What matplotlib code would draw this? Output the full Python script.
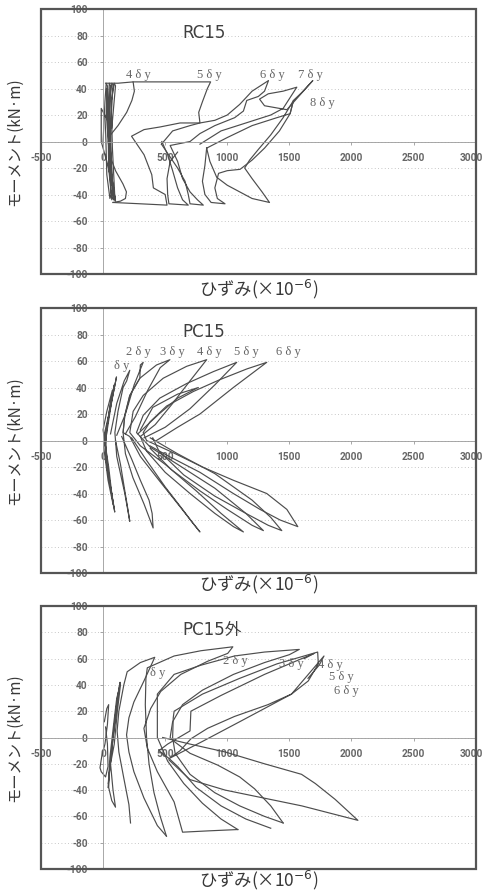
import matplotlib.pyplot as plt
from matplotlib.patches import Rectangle
from matplotlib.transforms import ScaledTranslation

plt.rcParams['font.family'] = ['Noto Sans CJK JP', 'DejaVu Sans']

# ---- RC15 : moment / strain loops (strain x1e-6, moment kN*m) ----
rc15_pre = [(0, 0), (15, 30), (25, 44), (35, 42), (20, 10), (30, -25), (55, -43), (65, -40),
            (45, -5), (40, 25), (50, 44), (60, 42), (40, 15), (45, -20), (70, -44), (80, -42),
            (55, 0), (55, 30), (70, 44), (80, 43), (60, 10), (65, -25), (85, -44), (95, -43),
            (75, -5), (65, 30), (90, 44), (100, 42), (70, 10), (-15, 25), (-15, 0), (30, -15),
            (80, -35), (100, -45), (60, -20), (35, 10), (30, 40), (45, 20), (75, -30), (90, -44)]
rc15_4dy = [(20, 44), (120, 44), (242, 45), (252, 38), (232, 31), (190, 22), (120, 12), (60, 5),
            (40, 0), (60, -12), (100, -22), (160, -32), (188, -38), (180, -43), (140, -45), (80, -46)]
rc15_5dy = [(80, -46), (300, -47), (515, -48), (500, -40), (405, -35), (392, -25), (330, -10),
            (229, 4), (330, 9), (460, 11), (620, 14), (780, 14), (770, 22), (800, 30), (840, 40),
            (866, 45), (600, 45), (242, 45)]
rc15_6dy = [(470, -2), (560, 8), (700, 12), (780, 14), (900, 16), (1000, 20), (1100, 28),
            (1150, 33), (1200, 38), (1332, 46), (1300, 38), (1250, 34), (1157, 31), (1130, 23),
            (1060, 18), (900, 12), (780, 6), (700, 0), (540, -3), (600, -15), (640, -28),
            (700, -38), (760, -44), (807, -48), (700, -47), (686, -40), (660, -30), (600, -20),
            (470, -2)]
rc15_6dy_b = [(473, 0), (520, -10), (560, -22), (600, -35), (640, -44), (686, -48), (530, -47),
              (520, -40), (515, -28), (540, -15), (600, -8)]
rc15_7dy = [(780, -2), (950, 8), (1150, 14), (1350, 20), (1450, 25), (1560, 41), (1450, 38),
            (1330, 36), (1260, 32), (1300, 27), (1480, 24), (1689, 46), (1600, 37), (1533, 31),
            (1506, 21), (1420, 8), (1300, -5), (1200, -14), (1103, -21), (1000, -22), (930, -24),
            (900, -35), (920, -43), (982, -47), (870, -46), (820, -40), (800, -30), (820, -18),
            (834, -5)]
rc15_8dy = [(834, -5), (1000, 3), (1200, 12), (1400, 18), (1506, 21), (1533, 31), (1450, 18),
            (1350, 5), (1250, -6), (1180, -14), (1140, -20), (1200, -28), (1280, -38), (1340, -46),
            (1200, -43), (1100, -38), (1000, -33), (915, -27), (860, -15), (834, -5)]
rc15_loops = [rc15_pre, rc15_4dy, rc15_5dy, rc15_6dy, rc15_6dy_b, rc15_7dy, rc15_8dy]
rc15_marks = [('4 δ y', 285, 50), ('5 δ y', 855, 50), ('6 δ y', 1367, 50),
              ('7 δ y', 1668, 50), ('8 δ y', 1762, 29)]

# ---- PC15 ----
pc15_pre = [(20, 0), (70, 30), (108, 48), (60, 25), (10, 5), (30, -20), (70, -40), (94, -54),
            (50, -30), (15, 0), (55, 25), (90, 42), (40, 15), (5, -5), (40, -30), (80, -48),
            (45, -20), (0, 8), (30, 22), (75, 38), (30, 10), (20, -10), (60, -35), (85, -50)]
pc15_1dy = [(60, 5), (110, 28), (170, 45), (215, 53), (190, 45), (161, 40), (120, 22), (95, 6),
            (110, -12), (140, -25), (175, -40), (215, -61), (200, -52), (175, -38), (140, -18),
            (100, 0)]
pc15_2dy = [(110, 4), (180, 20), (250, 42), (323, 59), (300, 57), (296, 47), (215, 34),
            (175, 19), (161, 6), (180, -10), (240, -28), (330, -48), (403, -66), (395, -55),
            (370, -45), (300, -30), (230, -14), (150, 3)]
pc15_3dy = [(180, 5), (260, 18), (360, 38), (460, 55), (538, 61), (430, 57), (296, 47), (215, 34),
            (175, 19), (161, 6), (215, 3), (300, -12), (450, -30), (620, -50), (780, -69),
            (720, -62), (640, -52), (500, -35), (350, -15), (230, 2)]
pc15_3dy_b = [(280, 5), (450, 20), (600, 32), (767, 40), (600, 35), (400, 25), (300, 8)]
pc15_4dy = [(300, 3), (420, 12), (560, 28), (700, 45), (834, 61), (673, 56), (484, 47), (323, 34),
            (242, 22), (215, 6), (300, -4), (500, -18), (750, -38), (950, -55), (1130, -69),
            (1050, -65), (900, -55), (700, -40), (500, -24), (350, -8), (300, 3)]
pc15_5dy = [(330, 2), (500, 10), (700, 24), (900, 42), (1076, 59), (888, 52), (673, 43),
            (457, 32), (323, 19), (269, 6), (380, -5), (600, -18), (900, -36), (1150, -55),
            (1291, -68), (1200, -64), (1000, -52), (780, -38), (550, -22), (380, -6)]
pc15_5dy_b = [(380, 2), (600, -10), (900, -25), (1200, -45), (1350, -58), (1439, -68),
              (1330, -64), (1150, -55), (900, -42), (650, -26), (450, -8), (400, 2)]
pc15_6dy = [(430, 0), (600, 10), (780, 20), (1049, 40), (1318, 59), (1157, 54), (942, 46),
            (727, 37), (511, 26), (377, 14), (323, 6), (350, 0), (560, -9), (800, -20),
            (1049, -30), (1318, -40), (1480, -52), (1568, -65), (1426, -60), (1264, -52),
            (1049, -40), (780, -24), (511, -11), (377, -4)]
pc15_loops = [pc15_pre, pc15_1dy, pc15_2dy, pc15_3dy, pc15_3dy_b, pc15_4dy, pc15_5dy,
              pc15_5dy_b, pc15_6dy]
pc15_marks = [('δ y', 148, 56), ('2 δ y', 285, 67), ('3 δ y', 554, 67), ('4 δ y', 858, 67),
              ('5 δ y', 1154, 67), ('6 δ y', 1493, 67)]

# ---- PC15外 ----
pcg_small = [(10, 12), (30, 22), (45, 25), (35, 10), (15, -5), (-10, -14), (-25, -23), (-15, -26),
             (20, -30), (40, -22), (35, -5), (20, 8)]
pcg_pre = [(40, -38), (55, -22), (80, 0), (105, 22), (120, 33), (137, 42), (125, 35), (100, 15),
           (75, -5), (50, -28), (45, -38), (70, -48), (100, -53), (80, -40), (60, -20), (90, -5),
           (115, 20), (140, 40), (110, 30), (85, 10), (55, -15), (42, -35)]
pcg_1dy = [(221, -65), (208, -51), (167, -31), (127, -11), (113, 5), (127, 20), (167, 40),
           (194, 50), (300, 57), (416, 61), (397, 57), (329, 43), (248, 27), (208, 15), (189, 2),
           (208, -11), (248, -26), (329, -46), (437, -67), (510, -75)]
pcg_2dy = [(510, -75), (460, -60), (410, -42), (370, -20), (350, 0), (340, 25), (345, 45),
           (356, 53), (572, 62), (788, 66), (1045, 69), (1004, 64), (842, 58), (626, 48),
           (464, 35), (383, 22), (329, 7), (356, -8), (437, -26), (572, -49), (640, -72),
           (850, -71), (1085, -70)]
pcg_3dy = [(1085, -70), (950, -62), (800, -50), (650, -35), (520, -18), (437, 0), (437, 33),
           (572, 48), (788, 55), (1058, 62), (1300, 65), (1580, 67), (1500, 63), (1300, 57),
           (1050, 48), (800, 36), (640, 25), (560, 12), (540, 0), (572, -3), (700, -12),
           (923, -21), (1100, -30), (1220, -39), (1350, -52), (1450, -65)]
pcg_4dy = [(1450, -65), (1300, -60), (1100, -52), (900, -42), (700, -28), (580, -12), (560, 0),
           (565, 15), (572, 20), (800, 33), (1100, 45), (1400, 56), (1728, 65), (1733, 56),
           (1652, 43), (1517, 33), (1328, 25), (1058, 16), (842, 7), (707, -1), (620, -10),
           (532, -16), (800, -3), (1100, 12), (1517, 33), (1779, 62), (1740, 55), (1650, 45)]
pcg_5dy = [(1350, -69), (1150, -62), (950, -52), (750, -38), (600, -22), (532, -16), (450, -10),
           (520, -5), (700, 5), (707, 20), (950, 32), (1300, 48), (1700, 64), (1620, 60)]
pcg_6dy = [(480, 0), (700, -5), (983, -11), (1300, -20), (1598, -28), (1709, -35), (1868, -47),
           (2052, -63), (1600, -52), (983, -40), (700, -32), (530, -17)]
pcg_loops = [pcg_small, pcg_pre, pcg_1dy, pcg_2dy, pcg_3dy, pcg_4dy, pcg_5dy, pcg_6dy]
pcg_marks = [('δ y', 437, 49), ('2 δ y', 1067, 58), ('3 δ y', 1517, 56), ('4 δ y', 1831, 55),
             ('5 δ y', 1920, 46), ('6 δ y', 1963, 35)]

x_ticks = [-500, 0, 500, 1000, 1500, 2000, 2500, 3000]
y_ticks = [-100, -80, -60, -40, -20, 0, 20, 40, 60, 80, 100]

LINE = '#4d4d4d'
FRAME = '#555555'
TICK = '#666666'


def draw_panel(ax, loops, title, marks):
    for loop in loops:
        xs = [p[0] for p in loop]
        ys = [p[1] for p in loop]
        ax.plot(xs, ys, color=LINE, lw=0.85, solid_joinstyle='round')

    ax.set_xlim(-500, 3000)
    ax.set_ylim(-100, 100)

    # axes cross at the origin, frame drawn separately
    for side in ('top', 'right'):
        ax.spines[side].set_visible(False)
    ax.spines['left'].set_position(('data', 0))
    ax.spines['bottom'].set_position(('data', 0))
    for side in ('left', 'bottom'):
        ax.spines[side].set_color('#9a9a9a')
        ax.spines[side].set_linewidth(0.6)
    ax.add_patch(Rectangle((0, 0), 1, 1, transform=ax.transAxes, fill=False,
                           ec=FRAME, lw=1.6, clip_on=False, zorder=6))

    ax.set_xticks(x_ticks)
    ax.set_xticklabels([str(v) for v in x_ticks])
    ax.set_yticks(y_ticks)
    ax.set_yticklabels([str(v) for v in y_ticks])
    ax.tick_params(axis='both', length=2, width=0.6, color='#999999', labelcolor=TICK)
    ax.tick_params(axis='x', pad=6)
    ax.tick_params(axis='y', pad=9)
    for lab in ax.get_xticklabels() + ax.get_yticklabels():
        lab.set_family('Roboto')
        lab.set_fontweight('bold')
        lab.set_fontsize(7.3)
    # keep the last strain label inside the figure edge
    last = ax.get_xticklabels()[-1]
    last.set_transform(last.get_transform() +
                       ScaledTranslation(-3 / 72, 0, ax.figure.dpi_scale_trans))

    ax.grid(axis='y', linestyle=(0, (1, 3)), color='#b5b5b5', lw=0.6)

    ax.text(640, 82, title, ha='left', va='center', fontsize=12, color='#404040',
            family=['DejaVu Sans', 'Noto Sans CJK JP'])
    for txt, x, y in marks:
        ax.text(x, y, txt, ha='center', va='center', fontsize=9, color='#666666',
                family=['Liberation Serif', 'DejaVu Serif'])


fig = plt.figure(figsize=(4.84, 8.92), dpi=100)
ax1 = fig.add_axes([0.0847, 0.6928, 0.898, 0.2971])
ax2 = fig.add_axes([0.0847, 0.3576, 0.898, 0.2971])
ax3 = fig.add_axes([0.0847, 0.0258, 0.898, 0.2948])

draw_panel(ax1, rc15_loops, 'RC15', rc15_marks)
draw_panel(ax2, pc15_loops, 'PC15', pc15_marks)
draw_panel(ax3, pcg_loops, 'PC15外', pcg_marks)

for yc, xl in [(0.8414, 0.675), (0.5061, 0.345), (0.1732, 0.013)]:
    fig.text(0.031, yc, 'モーメント(kN·m)', rotation=90, ha='center', va='center',
             fontsize=11, color='#383838')
    fig.text(0.534, xl, 'ひずみ(×10$^{-6}$)', ha='center', va='center',
             fontsize=12.5, color='#383838')

fig.savefig('out.png', dpi=100, facecolor='white')
